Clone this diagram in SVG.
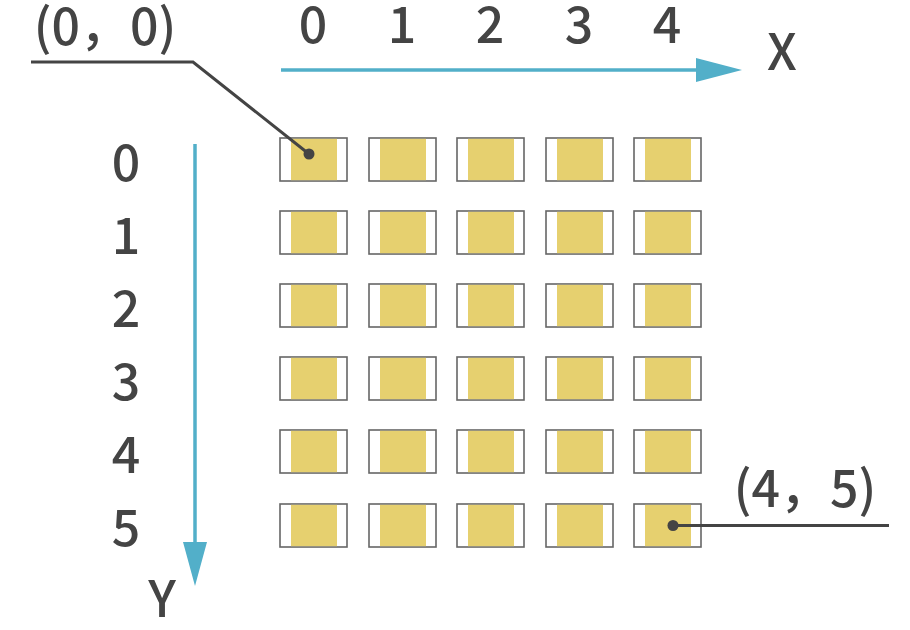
<svg xmlns="http://www.w3.org/2000/svg" width="910" height="630" viewBox="0 0 910 630">
<defs>
<style>
.t{font-family:"Noto Sans CJK JP","Noto Sans",sans-serif;font-size:50px;font-weight:500;fill:#444;text-anchor:middle}
.cell{fill:#fff;stroke:#666;stroke-width:1.6}
.pad{fill:#e6d06f}
.axis{stroke:#52afc9;stroke-width:3.5;fill:none}
.lead{stroke:#444;stroke-width:3;fill:none}
</style>
<g id="chip">
<rect class="cell" x="0" y="0" width="67" height="43"/>
<rect class="pad" x="11" y="0.8" width="46" height="41.4"/>
</g>
</defs>
<rect width="910" height="630" fill="#fff"/>
<g id="x-labels">
<text class="t" x="313" y="43">0</text>
<text class="t" x="402" y="43">1</text>
<text class="t" x="490" y="43">2</text>
<text class="t" x="579" y="43">3</text>
<text class="t" x="667" y="43">4</text>
<text class="t" x="782" y="70">X</text>
</g>
<g id="y-labels">
<text class="t" x="126" y="181">0</text>
<text class="t" x="126" y="254">1</text>
<text class="t" x="126" y="327">2</text>
<text class="t" x="126" y="400">3</text>
<text class="t" x="126" y="473">4</text>
<text class="t" x="126" y="546">5</text>
<text class="t" x="162" y="617">Y</text>
</g>
<g id="grid">
<use href="#chip" x="280" y="138"/><use href="#chip" x="369" y="138"/><use href="#chip" x="457" y="138"/><use href="#chip" x="546" y="138"/><use href="#chip" x="634" y="138"/>
<use href="#chip" x="280" y="211"/><use href="#chip" x="369" y="211"/><use href="#chip" x="457" y="211"/><use href="#chip" x="546" y="211"/><use href="#chip" x="634" y="211"/>
<use href="#chip" x="280" y="284"/><use href="#chip" x="369" y="284"/><use href="#chip" x="457" y="284"/><use href="#chip" x="546" y="284"/><use href="#chip" x="634" y="284"/>
<use href="#chip" x="280" y="357"/><use href="#chip" x="369" y="357"/><use href="#chip" x="457" y="357"/><use href="#chip" x="546" y="357"/><use href="#chip" x="634" y="357"/>
<use href="#chip" x="280" y="430"/><use href="#chip" x="369" y="430"/><use href="#chip" x="457" y="430"/><use href="#chip" x="546" y="430"/><use href="#chip" x="634" y="430"/>
<use href="#chip" x="280" y="504"/><use href="#chip" x="369" y="504"/><use href="#chip" x="457" y="504"/><use href="#chip" x="546" y="504"/><use href="#chip" x="634" y="504"/>
</g>
<g id="connectors">
<line class="axis" x1="281" y1="70" x2="700" y2="70"/>
<polygon points="696,58 742,70 696,82" fill="#52afc9"/>
<line class="axis" x1="195" y1="144" x2="195" y2="545"/>
<polygon points="183,542 207,542 195,586" fill="#52afc9"/>
<polyline class="lead" points="31,62 193,62 309,154"/>
<circle cx="309" cy="154" r="5.5" fill="#444"/>
<line class="lead" x1="673" y1="525.5" x2="889" y2="525.5"/>
<circle cx="673" cy="525.5" r="5.5" fill="#444"/>
</g>
<g id="labels">
<text class="t" x="105" y="45">(0，0)</text>
<text class="t" x="805" y="507">(4，5)</text>
</g>
</svg>
